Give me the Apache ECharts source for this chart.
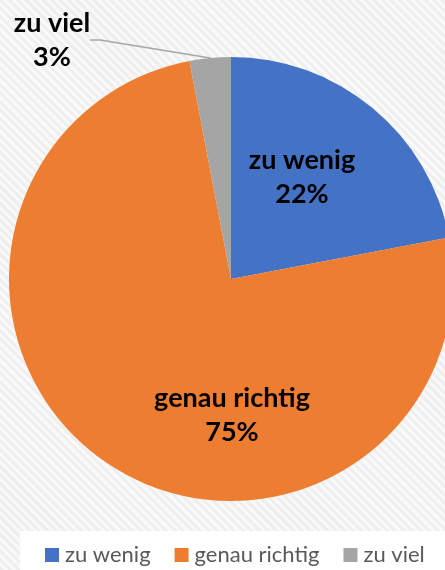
<!DOCTYPE html>
<html>
<head>
<meta charset="utf-8">
<script src="https://cdn.jsdelivr.net/npm/echarts@6/dist/echarts.min.js"></script>
<style>
    html, body {
        margin: 0;
        padding: 0;
    }
    body {
        background: repeating-linear-gradient(45deg, #efefef 0px, #efefef 3px, #f9f9f9 3px, #f9f9f9 6px);
    }
    #chart {
        width: 445px;
        height: 570px;
    }
</style>
</head>
<body>
<div id="chart"></div>
<script>
// Daten
const categories = ['zu wenig', 'genau richtig', 'zu viel']
const values = [22, 75, 3]
const colors = ['#4472c4', '#ed7d31', '#a5a5a5']

// Label-Positionen (wie im Original)
const labelPos = [
    { x: 302, y: 177 },
    { x: 232, y: 415 },
    { x: 52, y: 40 }
]

const chart = echarts.init(document.getElementById('chart'))

const option = {
    animation: false,
    color: colors,
    graphic: [
        {
            type: 'rect',
            shape: { x: 20, y: 531, width: 430, height: 45 },
            style: { fill: '#ffffff' },
            z: -1
        }
    ],
    legend: {
        left: 40,
        top: 539,
        itemWidth: 14,
        itemHeight: 14,
        itemGap: 24,
        icon: 'rect',
        textStyle: {
            color: '#595959',
            fontFamily: 'Lato',
            fontSize: 22,
            padding: [0, 0, 0, 1]
        },
        data: categories
    },
    series: [
        {
            type: 'pie',
            center: [231, 279],
            radius: 222,
            startAngle: 90,
            clockwise: true,
            data: categories.map((name, i) => ({
                name: name,
                value: values[i],
                label: {
                    position: i === 2 ? 'outside' : 'inside'
                }
            })),
            label: {
                show: true,
                formatter: p => p.name + '\n' + Math.round(p.percent) + '%',
                color: '#000',
                fontFamily: 'Lato',
                fontWeight: 'bold',
                fontSize: 27,
                lineHeight: 34,
                align: 'center'
            },
            labelLine: {
                show: true,
                length: 10,
                length2: 10,
                lineStyle: {
                    color: '#a6a6a6',
                    width: 1.5
                }
            },
            labelLayout: function (params) {
                const p = labelPos[params.dataIndex]
                return {
                    x: p.x,
                    y: p.y,
                    align: 'center',
                    verticalAlign: 'middle'
                }
            },
            emphasis: { disabled: true }
        }
    ]
}
chart.setOption(option)
</script>
</body>
</html>
